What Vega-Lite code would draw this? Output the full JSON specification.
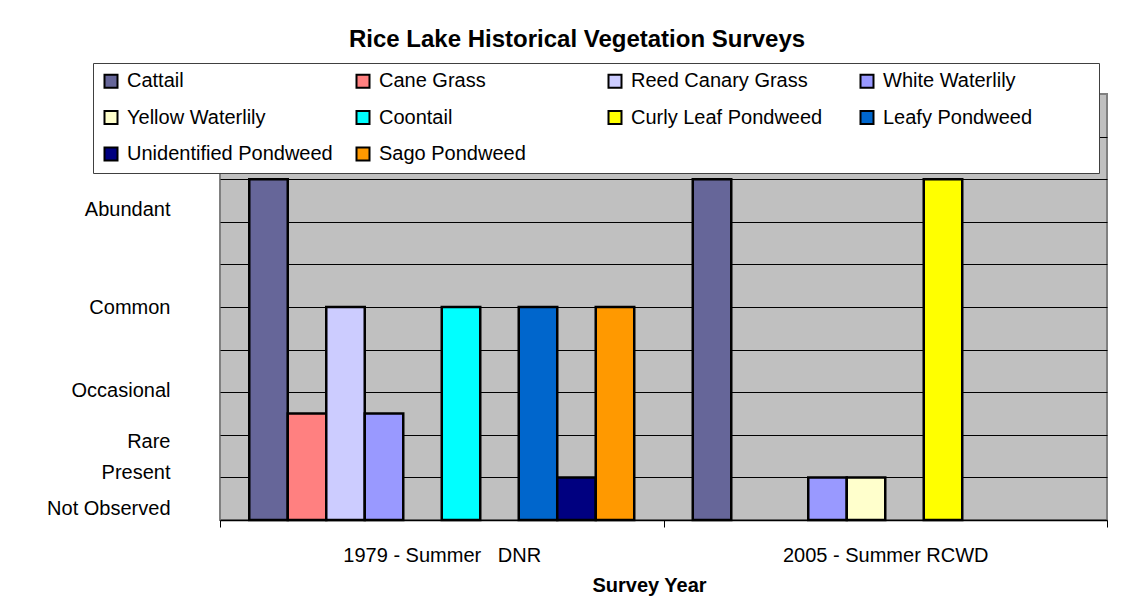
{
  "$schema": "https://vega.github.io/schema/vega-lite/v6.json",
  "width": 887,
  "height": 426,
  "autosize": {"type": "none"},
  "padding": {"left": 220, "top": 94, "right": 21, "bottom": 85},
  "background": "white",
  "title": {
    "text": "Rice Lake Historical Vegetation Surveys",
    "fontSize": 24,
    "fontWeight": "bold",
    "font": "Liberation Sans",
    "color": "black",
    "anchor": "middle",
    "frame": "bounds",
    "offset": 11
  },
  "config": {
    "font": "Liberation Sans",
    "view": {"fill": "#C0C0C0", "stroke": "#808080", "strokeWidth": 2}
  },
  "resolve": {"axis": {"y": "independent"}},
  "layer": [
    {
      "data": {
        "values": [
          {"survey": "1979 - Summer\u00a0\u00a0\u00a0DNR", "species": "Cattail", "level": 8},
          {"survey": "1979 - Summer\u00a0\u00a0\u00a0DNR", "species": "Cane Grass", "level": 2.5},
          {"survey": "1979 - Summer\u00a0\u00a0\u00a0DNR", "species": "Reed Canary Grass", "level": 5},
          {"survey": "1979 - Summer\u00a0\u00a0\u00a0DNR", "species": "White Waterlily", "level": 2.5},
          {"survey": "1979 - Summer\u00a0\u00a0\u00a0DNR", "species": "Coontail", "level": 5},
          {"survey": "1979 - Summer\u00a0\u00a0\u00a0DNR", "species": "Leafy Pondweed", "level": 5},
          {"survey": "1979 - Summer\u00a0\u00a0\u00a0DNR", "species": "Unidentified Pondweed", "level": 1},
          {"survey": "1979 - Summer\u00a0\u00a0\u00a0DNR", "species": "Sago Pondweed", "level": 5},
          {"survey": "2005 - Summer RCWD", "species": "Cattail", "level": 8},
          {"survey": "2005 - Summer RCWD", "species": "White Waterlily", "level": 1},
          {"survey": "2005 - Summer RCWD", "species": "Yellow Waterlily", "level": 1},
          {"survey": "2005 - Summer RCWD", "species": "Curly Leaf Pondweed", "level": 8}
        ]
      },
      "mark": {"type": "bar", "stroke": "black", "strokeWidth": 2.5},
      "encoding": {
        "x": {
          "field": "survey",
          "type": "nominal",
          "sort": null,
          "scale": {"paddingInner": 0, "paddingOuter": 0},
          "axis": {
            "title": "Survey Year",
            "titleFontSize": 20,
            "titleFontWeight": "bold",
            "titleColor": "black",
            "titlePadding": 10,
            "titleX": 429,
            "labelAngle": 0,
            "labelFontSize": 20,
            "labelColor": "black",
            "labelPadding": 18,
            "labelLimit": 400,
            "domainColor": "black",
            "domainWidth": 1.5,
            "tickColor": "black",
            "tickSize": 7,
            "tickWidth": 1,
            "tickBand": "extent",
            "grid": false
          }
        },
        "xOffset": {
          "field": "species",
          "type": "nominal",
          "scale": {
            "domain": ["Cattail", "Cane Grass", "Reed Canary Grass", "White Waterlily", "Yellow Waterlily", "Coontail", "Curly Leaf Pondweed", "Leafy Pondweed", "Unidentified Pondweed", "Sago Pondweed"],
            "paddingInner": 0,
            "paddingOuter": 0.76
          }
        },
        "y": {
          "field": "level",
          "type": "quantitative",
          "scale": {"domain": [0, 10], "nice": false},
          "axis": {
            "values": [1, 2, 3, 4, 5, 6, 7, 8, 9],
            "grid": true,
            "gridColor": "black",
            "gridOpacity": 1,
            "gridWidth": 1,
            "labels": false,
            "ticks": false,
            "domain": false,
            "title": null
          }
        },
        "color": {
          "field": "species",
          "type": "nominal",
          "scale": {
            "domain": ["Cattail", "Cane Grass", "Reed Canary Grass", "White Waterlily", "Yellow Waterlily", "Coontail", "Curly Leaf Pondweed", "Leafy Pondweed", "Unidentified Pondweed", "Sago Pondweed"],
            "range": ["#666699", "#FF8080", "#CCCCFF", "#9999FF", "#FFFFCC", "#00FFFF", "#FFFF00", "#0066CC", "#000080", "#FF9900"]
          },
          "legend": {
            "title": "\u00a0",
            "titleOrient": "right",
            "titlePadding": 59,
            "titleFontSize": 20,
            "orient": "none",
            "legendX": -127,
            "legendY": -31,
            "direction": "horizontal",
            "columns": 4,
            "gridAlign": "all",
            "columnPadding": 19,
            "rowPadding": 14.5,
            "padding": 8,
            "labelFontSize": 20,
            "labelColor": "black",
            "labelOffset": 6,
            "labelLimit": 400,
            "symbolType": "square",
            "symbolSize": 169,
            "symbolStrokeWidth": 2,
            "symbolStrokeColor": "black",
            "symbolOpacity": 1,
            "fillColor": "white",
            "strokeColor": "#404040"
          }
        }
      }
    },
    {
      "data": {
        "values": [
          {"label": "Abundant", "pos": 7.29},
          {"label": "Common", "pos": 4.98},
          {"label": "Occasional", "pos": 3.05},
          {"label": "Rare", "pos": 1.84},
          {"label": "Present", "pos": 1.12},
          {"label": "Not Observed", "pos": 0.26}
        ]
      },
      "mark": {"type": "point", "opacity": 0},
      "encoding": {
        "y": {
          "field": "pos",
          "type": "quantitative",
          "axis": {
            "orient": "left",
            "values": [7.29, 4.98, 3.05, 1.84, 1.12, 0.26],
            "labelExpr": "datum.value > 6 ? 'Abundant' : datum.value > 4 ? 'Common' : datum.value > 2.5 ? 'Occasional' : datum.value > 1.5 ? 'Rare' : datum.value > 0.7 ? 'Present' : 'Not Observed'",
            "labelFontSize": 20,
            "labelColor": "black",
            "labelPadding": 50,
            "ticks": false,
            "domain": false,
            "grid": false,
            "title": null
          }
        }
      }
    }
  ]
}
